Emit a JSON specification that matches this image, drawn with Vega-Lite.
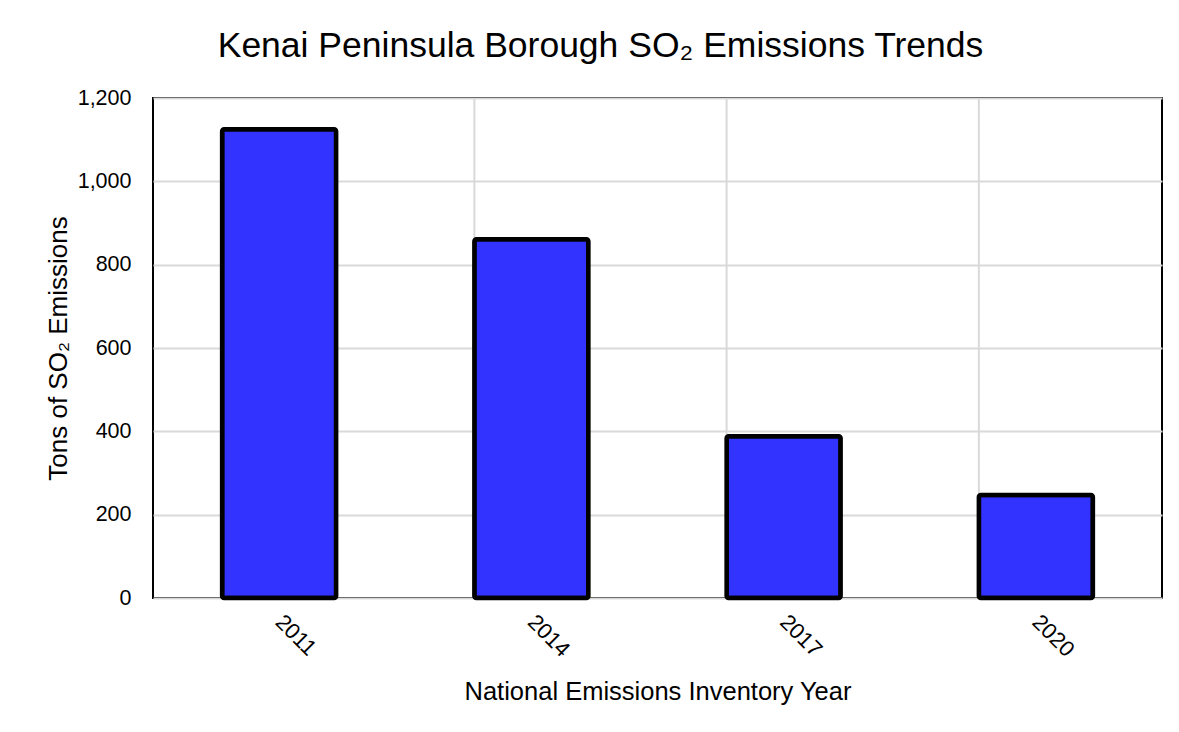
{
  "$schema": "https://vega.github.io/schema/vega-lite/v6.json",
  "autosize": "none",
  "width": 1009,
  "height": 500,
  "padding": {"left": 153, "top": 98, "right": 17, "bottom": 134},
  "background": "white",
  "title": {
    "text": "Kenai Peninsula Borough SO₂ Emissions Trends",
    "fontSize": 35.5,
    "fontWeight": "normal",
    "font": "Liberation Sans",
    "color": "black",
    "offset": 23,
    "dx": -57
  },
  "data": {
    "values": [
      {"year": "2011", "tons": 1125},
      {"year": "2014", "tons": 861},
      {"year": "2017", "tons": 388},
      {"year": "2020", "tons": 247}
    ]
  },
  "layer": [
    {
      "transform": [{"filter": "datum.year != '2011'"}],
      "mark": {"type": "rule", "color": "#d9d9d9", "strokeWidth": 2},
      "encoding": {
        "x": {"field": "year", "type": "ordinal", "bandPosition": 0}
      }
    },
    {
      "mark": {"type": "bar", "color": "#3333ff", "stroke": "black", "strokeWidth": 4.5, "cornerRadius": 2},
      "encoding": {
        "x": {
          "field": "year",
          "type": "ordinal",
          "scale": {"paddingInner": 0.548, "paddingOuter": 0.274},
          "axis": {
            "title": "National Emissions Inventory Year",
            "labelAngle": 45,
            "labelAlign": "left",
            "labelBaseline": "middle",
            "labelPadding": 20,
            "labelFontSize": 22,
            "titleFontSize": 25.5,
            "ticks": false,
            "domain": false,
            "grid": false,
            "titlePadding": 19
          }
        },
        "y": {
          "field": "tons",
          "type": "quantitative",
          "scale": {"domain": [0, 1200], "nice": false},
          "axis": {
            "title": "Tons of SO₂ Emissions",
            "values": [0, 200, 400, 600, 800, 1000, 1200],
            "format": ",.0f",
            "ticks": false,
            "domain": false,
            "labelPadding": 22,
            "labelFontSize": 21.5,
            "titleFontSize": 26,
            "titlePadding": 6,
            "gridColor": "#d9d9d9",
            "gridWidth": 2
          }
        }
      }
    }
  ],
  "config": {
    "font": "Liberation Sans",
    "view": {"stroke": "black", "strokeWidth": 2},
    "axis": {
      "labelFont": "Liberation Sans",
      "labelColor": "black",
      "titleFont": "Liberation Sans",
      "titleFontWeight": "normal",
      "titleColor": "black"
    }
  }
}
